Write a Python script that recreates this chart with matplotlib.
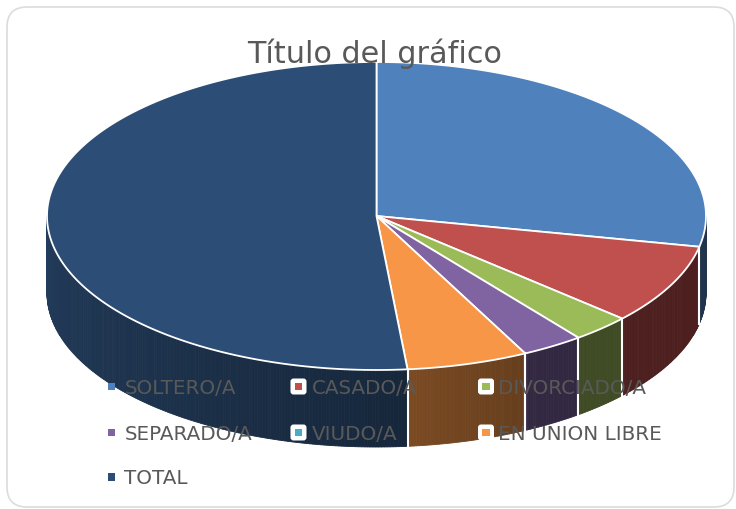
import numpy as np
import matplotlib.pyplot as plt
from matplotlib.patches import Polygon, Rectangle, FancyBboxPatch
from matplotlib.colors import to_rgb

categories = ["SOLTERO/A", "CASADO/A", "DIVORCIADO/A", "SEPARADO/A",
              "VIUDO/A", "EN UNION LIBRE", "TOTAL"]
values = [28.2, 8.4, 2.9, 3.05, 0.0, 5.95, 51.5]
colors = ["#4F81BD", "#C0504D", "#9BBB59", "#8064A2",
          "#4BACC6", "#F79646", "#2C4D75"]
title = "Título del gráfico"

# pie geometry (pixel space)
cx, cy, rx, ry, depth = 376.5, 216, 329.5, 154, 77


def pt(theta, dy=0.0):
    t = np.radians(theta)
    return cx + rx * np.sin(t), cy - ry * np.cos(t) + dy


def shade(theta):
    # darker on the right, lighter towards the left
    return np.interp(theta, [90, 150, 180, 270], [0.40, 0.40, 0.52, 0.78])


fig = plt.figure(figsize=(7.36, 5.09), dpi=100)
ax = fig.add_axes([0, 0, 1, 1])
ax.set_xlim(0, 736)
ax.set_ylim(509, 0)
ax.axis("off")

# chart frame
ax.add_patch(FancyBboxPatch((7, 7), 727, 500,
                            boxstyle="round,pad=0,rounding_size=20",
                            fc="white", ec="#dcdcdc", lw=1.2))

fracs = np.array(values) / sum(values)
edges = np.concatenate([[0], np.cumsum(fracs) * 360])

# side rim (front half only)
for i, c in enumerate(colors):
    a0, a1 = max(edges[i], 90), min(edges[i + 1], 270)
    if a1 <= a0:
        continue
    base = np.array(to_rgb(c))
    ts = np.linspace(a0, a1, max(2, int((a1 - a0) / 0.5) + 1))
    for t0, t1 in zip(ts[:-1], ts[1:]):
        col = np.clip(base * shade((t0 + t1) / 2), 0, 1)
        quad = [pt(t0), pt(t1), pt(t1, depth), pt(t0, depth)]
        ax.add_patch(Polygon(quad, closed=True, fc=col, ec=col, lw=0.6))

# seams on the rim
for e in edges:
    if 90 < e < 270:
        x0, y0 = pt(e)
        ax.plot([x0, x0], [y0, y0 + depth], color="white", lw=1.5)

# top faces
for i, c in enumerate(colors):
    if values[i] <= 0:
        continue
    ts = np.linspace(edges[i], edges[i + 1], 200)
    poly = [(cx, cy)] + [pt(t) for t in ts]
    ax.add_patch(Polygon(poly, closed=True, fc=c, ec="white", lw=1.3,
                         joinstyle="round"))

# title
ax.text(375, 63, title, ha="center", va="baseline", fontsize=21.8,
        color="#595959")

# legend
col_mark = [111.5, 298.5, 486]
col_text = [124.5, 311.5, 498.5]
row_base = [393.5, 439.5, 484]
for k, (name, c) in enumerate(zip(categories, colors)):
    r, q = divmod(k, 3)
    mx, my = col_mark[q], row_base[r] - 7
    if q > 0:
        ax.add_patch(FancyBboxPatch((mx - 8, my - 8), 16, 16,
                                    boxstyle="round,pad=0,rounding_size=3",
                                    fc="white", ec="none"))
    ax.add_patch(Rectangle((mx - 3.8, my - 3.8), 7.6, 7.6, fc=c, ec="none"))
    ax.text(col_text[q], row_base[r], name, ha="left", va="baseline",
            fontsize=14.3, color="#595959")

fig.savefig("out.png", dpi=100)
